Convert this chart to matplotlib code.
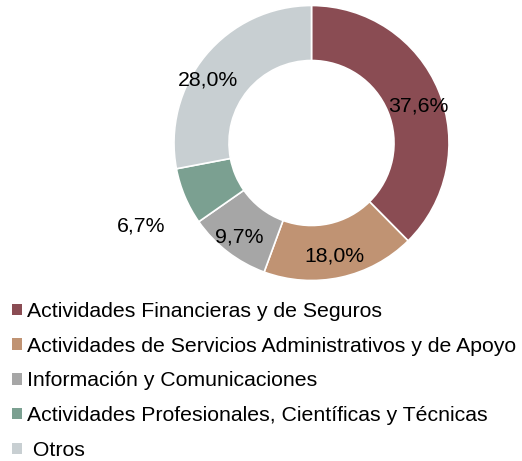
import matplotlib
matplotlib.use("Agg")
import matplotlib.pyplot as plt
import numpy as np
from matplotlib.patches import Patch

categories = ["Actividades Financieras y de Seguros",
              "Actividades de Servicios Administrativos y de Apoyo",
              "Información y Comunicaciones",
              "Actividades Profesionales, Científicas y Técnicas",
              " Otros"]
values = [37.6, 18.0, 9.7, 6.7, 28.0]
labels = ["37,6%", "18,0%", "9,7%", "6,7%", "28,0%"]
colors = ["#8A4C53", "#C09373", "#A6A6A6", "#7BA091", "#C8CFD2"]

plt.rcParams['font.family'] = ['Liberation Sans', 'DejaVu Sans']

W, H = 522, 461
fig = plt.figure(figsize=(W/100, H/100), dpi=100)
cx, cy, r = 311.5, 143, 137.5
ax = fig.add_axes([(cx - r)/W, (H - cy - r)/H, 2*r/W, 2*r/H])

wedges, _ = ax.pie(values, colors=colors, startangle=90, counterclock=False,
                   radius=1, wedgeprops=dict(width=0.4, edgecolor='white', linewidth=1.2))
ax.set_xlim(-1, 1)
ax.set_ylim(-1, 1)
ax.set_aspect('equal')
ax.axis('off')

dist = [0.82, 0.84, 0.86, 1.38, 0.88]
ang_adj = [-3, -1, 0, 3, 8]
for w, lab, d, da in zip(wedges, labels, dist, ang_adj):
    a = np.deg2rad((w.theta1 + w.theta2) / 2 + da)
    ax.text(d*np.cos(a), d*np.sin(a), lab, ha='center', va='center',
            fontsize=15.3, color='black', clip_on=False)

handles = [Patch(facecolor=c, edgecolor='none') for c in colors]
fig.legend(handles, categories, loc='upper left', bbox_to_anchor=(12/W, 1 - 302/H),
           frameon=False, fontsize=15.3, handlelength=0.45, handleheight=0.45,
           handletextpad=0.25, labelspacing=0.74, borderaxespad=0, borderpad=0)

fig.savefig("out.png", dpi=100)
